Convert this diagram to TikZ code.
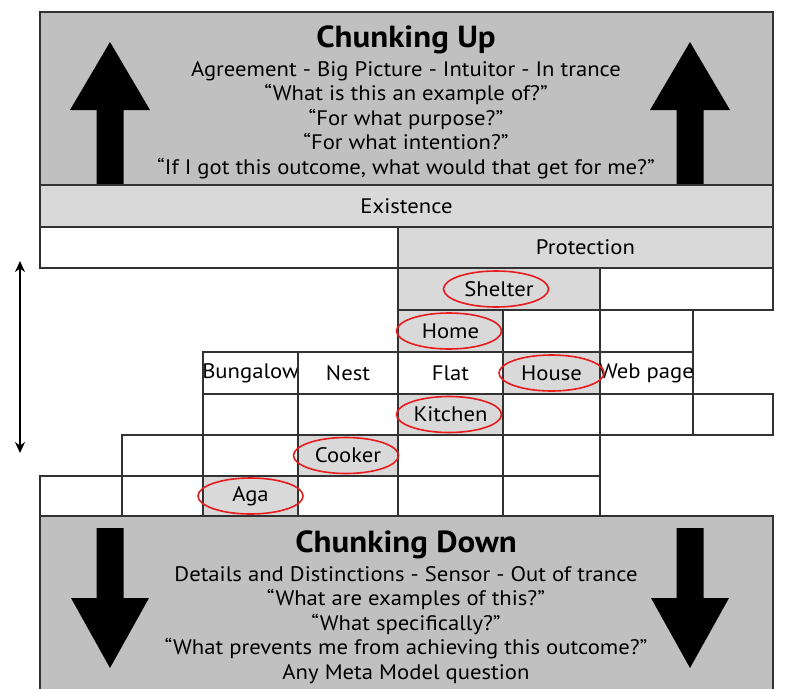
\documentclass[tikz,border=0pt]{standalone}
\usepackage{fontspec}
\setmainfont{PT Sans}
\newfontfamily\widesans[FakeStretch=1.08]{PT Sans}
\usetikzlibrary{arrows.meta,shapes.geometric}
\definecolor{panelgray}{RGB}{192,192,192}
\definecolor{cellgray}{RGB}{217,217,217}
\definecolor{edgegray}{RGB}{50,50,50}
\definecolor{ringred}{RGB}{232,28,28}
\newcommand\gridcell[7]{\node[#2, minimum width={(#5-#3)*1pt}, minimum height={(#6-#4)*1pt}, label={center:#7}] (#1) at ({(#3+#5)/2},{(#4+#6)/2}) {};}
\begin{document}
\begin{tikzpicture}[x=1pt,y=-1pt,
  basecell/.style={draw=edgegray, line width=1.3pt, inner sep=0pt, outer sep=0pt},
  plaincell/.style={basecell, fill=white},
  greycell/.style={basecell, fill=cellgray},
  panelcell/.style={basecell, fill=panelgray},
  every label/.style={font=\widesans\fontsize{21}{24}\selectfont, inner sep=0pt, text=black},
  ring/.style={draw=ringred, line width=1.6pt, ellipse, minimum width=105pt, minimum height=36pt, inner sep=0pt},
  title/.style={font=\widesans\fontsize{30.5}{34}\selectfont\bfseries, inner sep=0pt},
  body/.style={font=\widesans\fontsize{21}{24.4}\selectfont, align=center, inner sep=0pt},
  uparrow/.pic={\fill[black] (0,0) -- (40,68) -- (13.5,68) -- (13.5,142) -- (-13.5,142) -- (-13.5,68) -- (-40,68) -- cycle;},
  downarrow/.pic={\fill[black] (0,0) -- (39,-70) -- (13.5,-70) -- (13.5,-140) -- (-13.5,-140) -- (-13.5,-70) -- (-39,-70) -- cycle;}
]
\useasboundingbox (0,0) rectangle (789,688);
% panels
\gridcell{up}{panelcell}{40}{12}{773}{185}{}
\gridcell{down}{panelcell}{40}{516}{773}{700}{}
\pic at (110,42) {uparrow};
\pic at (690,42) {uparrow};
\pic at (110,668) {downarrow};
\pic at (690,668) {downarrow};
\node[title] (uptitle) at (406,40) {Chunking Up};
\node[body] (uptext) at (406,120) {Agreement - Big Picture - Intuitor - In trance\\
“What is this an example of?”\\
“For what purpose?”\\
“For what intention?”\\
“If I got this outcome, what would that get for me?”};
\node[title] (downtitle) at (406,545) {Chunking Down};
\node[body] (downtext) at (406,625) {Details and Distinctions - Sensor - Out of trance\\
“What are examples of this?”\\
“What specifically?”\\
“What prevents me from achieving this outcome?”\\
Any Meta Model question};
% grid rows
\gridcell{exist}{greycell}{40}{185}{773}{227}{Existence}
\gridcell{blankB}{plaincell}{40}{227}{398}{268}{}
\gridcell{protect}{greycell}{398}{227}{773}{268}{Protection}
\gridcell{shelter}{greycell}{398}{268}{600}{310}{Shelter}
\gridcell{c2}{plaincell}{600}{268}{773}{310}{}
\gridcell{home}{greycell}{398}{310}{503}{352}{Home}
\gridcell{d2}{plaincell}{503}{310}{600}{352}{}
\gridcell{d3}{plaincell}{600}{310}{693}{352}{}
\gridcell{bungalow}{plaincell}{203}{352}{298}{394}{Bungalow}
\gridcell{nest}{plaincell}{298}{352}{398}{394}{Nest}
\gridcell{flat}{plaincell}{398}{352}{503}{394}{Flat}
\gridcell{house}{greycell}{503}{352}{600}{394}{House}
\gridcell{webpage}{plaincell}{600}{352}{693}{394}{Web page}
\gridcell{f1}{plaincell}{203}{394}{298}{435}{}
\gridcell{f2}{plaincell}{298}{394}{398}{435}{}
\gridcell{kitchen}{greycell}{398}{394}{503}{435}{Kitchen}
\gridcell{f4}{plaincell}{503}{394}{600}{435}{}
\gridcell{f5}{plaincell}{600}{394}{693}{435}{}
\gridcell{f6}{plaincell}{693}{394}{773}{435}{}
\gridcell{g1}{plaincell}{122}{435}{203}{476}{}
\gridcell{g2}{plaincell}{203}{435}{298}{476}{}
\gridcell{cooker}{greycell}{298}{435}{398}{476}{Cooker}
\gridcell{g4}{plaincell}{398}{435}{503}{476}{}
\gridcell{g5}{plaincell}{503}{435}{600}{476}{}
\gridcell{h1}{plaincell}{40}{476}{122}{516}{}
\gridcell{h2}{plaincell}{122}{476}{203}{516}{}
\gridcell{aga}{greycell}{203}{476}{298}{516}{Aga}
\gridcell{h4}{plaincell}{298}{476}{398}{516}{}
\gridcell{h5}{plaincell}{398}{476}{503}{516}{}
\gridcell{h6}{plaincell}{503}{476}{600}{516}{}
% red rings
\node[ring] (shelterring) at ([xshift=-3pt]shelter.center) {};
\node[ring] (homering) at ([xshift=-1.5pt]home.center) {};
\node[ring] (housering) at (house.center) {};
\node[ring] (kitchenring) at ([xshift=-1.5pt]kitchen.center) {};
\node[ring] (cookerring) at ([xshift=-2pt]cooker.center) {};
\node[ring] (agaring) at (aga.center) {};
% scale arrow
\coordinate (scaletop) at (20,261);
\coordinate (scalebot) at (20,453);
\draw[line width=1.8pt, {Stealth[length=11pt,width=10pt]}-{Stealth[length=11pt,width=10pt]}] (scaletop) -- (scalebot);
\end{tikzpicture}
\end{document}
